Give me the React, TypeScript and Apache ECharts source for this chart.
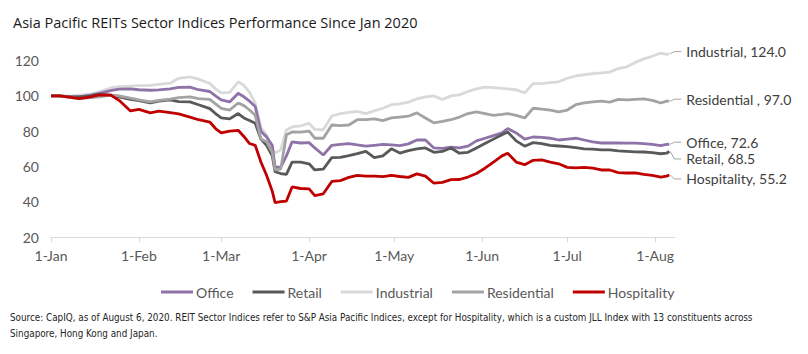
import React, { useEffect, useRef } from "react";
import * as echarts from "echarts";

const dates = [
  "2020-01-01","2020-01-04","2020-01-08","2020-01-11","2020-01-15","2020-01-18","2020-01-22","2020-01-25","2020-01-29",
  "2020-02-01","2020-02-05","2020-02-08","2020-02-12","2020-02-15","2020-02-19","2020-02-22","2020-02-26","2020-02-28",
  "2020-03-01","2020-03-04","2020-03-07","2020-03-09","2020-03-11","2020-03-13","2020-03-15","2020-03-17","2020-03-19",
  "2020-03-20","2020-03-22","2020-03-24","2020-03-26","2020-03-29",
  "2020-04-01","2020-04-03","2020-04-06","2020-04-09","2020-04-12","2020-04-15","2020-04-18","2020-04-21","2020-04-24",
  "2020-04-27","2020-04-30",
  "2020-05-03","2020-05-06","2020-05-09","2020-05-12","2020-05-15","2020-05-18","2020-05-21","2020-05-24","2020-05-27","2020-05-30",
  "2020-06-02","2020-06-05","2020-06-08","2020-06-10","2020-06-13","2020-06-16","2020-06-19","2020-06-22","2020-06-25","2020-06-28",
  "2020-07-01","2020-07-04","2020-07-07","2020-07-10","2020-07-13","2020-07-16","2020-07-19","2020-07-22","2020-07-25","2020-07-28","2020-07-31",
  "2020-08-03","2020-08-05","2020-08-06",
];

const office = [
  100,100,99.5,99.5,100.5,101.5,103,103.8,104,
  103.5,103.2,103.4,104,104.8,105,103.5,102.5,100,
  97.7,96.6,101.5,99.5,97,94,80,76.7,72,
  59.6,59.6,66,74,73.3,
  73.5,70.5,66.5,72,72.5,73,72.2,71.5,72,
  72.5,72.2,
  71.8,72.8,75,75,70.5,70.3,71,70.5,71.5,74.5,
  76,77.5,79,81.5,79,75.5,76.7,76.5,76,75,
  75.5,76,75,74,73.3,73.3,73.3,73.2,73.2,73,72.5,
  71.8,72.5,72.6,
];

const retail = [
  100,100,99.5,99.5,100,101,100.5,99.5,98,
  97.3,96,97,97.7,96.8,96.6,95,92.8,90,
  87.5,87,90,87.5,86,84.5,75.5,72,66,
  57,56,55.5,62.5,62.5,
  61.5,58,58.5,65,65.2,66.2,67.3,68.5,65,
  66,70,
  67.6,69,70,70.5,68,68.5,70.5,67.5,68,70.5,
  73,75.5,78,79.6,74.5,71.5,73.5,73,72,71.6,
  71.2,70.7,70,69.8,69.4,69.4,68.8,68.6,68.3,68.2,67.8,
  67.2,67.5,68.5,
];

const industrial = [
  100,100,100,100.5,101.2,102.3,104.5,105.2,105.6,
  105.8,106,106.6,107.2,110,110.8,109.5,107,104,
  101.7,102,108,106,102,96,82,78,70,
  67.6,69.4,80.7,82.4,83,
  84.5,81,80.8,88.6,90,90.7,91.2,90,91.5,
  93,95,
  95.5,96.5,98.3,99.5,100,98,100,100.6,102.5,104,
  105,104.7,104.3,104,103.5,101.7,107,107,107.5,108,
  110,111.3,112,112.7,113,113.5,115.5,116.5,119,121,122.5,
  124.3,123.5,124,
];

const residential = [
  100,100,99,98.5,99,99.4,100.4,100,98.8,
  97.7,96.6,97.5,98.2,99,99.4,98.5,98,95.5,
  93,92,96,94.5,92,89,75.5,74,68,
  58,58.5,78,79.6,79.5,
  80,76,76,83.5,83.2,83.5,86.5,86.5,87,
  86,87.5,
  88,88.5,90.4,87.5,84.7,85.5,86.5,88,90,91,
  90,89,89.5,90,89,87.5,93,92.5,92,91,
  92,95,96,96.6,97,96.5,98,97.7,98,98.3,97.5,
  96,97,97,
];

const hospitality = [
  100,100,99.2,98.5,99.5,100.6,100.5,97.5,91.5,
  92.4,90.4,91.4,90.5,89.8,88,86.5,85.2,81.5,
  79,80,80.5,77,73,72,62.5,55,46,
  39.5,40,40.4,48.4,47.5,
  47.3,43.5,44.5,51.5,52,53.8,55,54.5,54.5,
  54.2,55,
  54.3,53.8,55.8,54.5,50.5,51,52.5,52.6,54,56,
  59,62.5,66,67.5,62.5,61,63.5,63.7,62.5,61.5,
  59.5,59.2,59.5,59,58,58,56.5,56.3,56.3,55.5,55,
  54,54.5,55.2,
];

const seriesNames = ["Office", "Retail", "Industrial", "Residential", "Hospitality"];
const endNames = ["Office", "Retail", "Industrial", "Residential ", "Hospitality"];
const colors = ["#8e72a8", "#595959", "#d9d9d9", "#a3a3a3", "#c00000"];
const monthTicks = [0, 31, 60, 91, 121, 152, 182, 213];
const monthLabels = ["1-Jan", "1-Feb", "1-Mar", "1-Apr", "1-May", "1-Jun", "1-Jul", "1-Aug"];
const yTicks = [20, 40, 60, 80, 100, 120];

const title = "Asia Pacific REITs Sector Indices Performance Since Jan 2020";
const source =
  "Source: CapIQ, as of August 6, 2020. REIT Sector Indices refer to S&P Asia Pacific Indices, except for Hospitality, which is a custom JLL Index with 13 constituents across\nSingapore, Hong Kong and Japan.";

// label vertical offsets (px) relative to each series' last point
const labelDy = [-2, 7.5, -2, -2, 4];

const FONT = "Lato, 'Source Sans Pro', sans-serif";

function dayOf(d: string) {
  const [y, m, dd] = d.split("-").map(Number);
  return Math.round((Date.UTC(y, m - 1, dd) - Date.UTC(2020, 0, 1)) / 86400000);
}

export default function App() {
  const ref = useRef<HTMLDivElement>(null);
  useEffect(() => {
    if (!ref.current) return;
    const chart = echarts.init(ref.current, null, { renderer: "svg" });
    const days = dates.map(dayOf);
    const values = [office, retail, industrial, residential, hospitality];
    const series = values.map((vals, i) => ({
      name: seriesNames[i],
      type: "line",
      data: vals.map((v, k) => [days[k], v]),
      showSymbol: false,
      symbol: "none",
      clip: false,
      lineStyle: { width: 2.8, color: colors[i] },
      itemStyle: { color: colors[i] },
      z: i === 4 ? 5 : i === 2 ? 1 : 2 + i,
    }));
    chart.setOption({
      animation: false,
      backgroundColor: "#ffffff",
      title: {
        text: title,
        left: 8,
        top: 10,
        textStyle: { fontFamily: "'Open Sans', sans-serif", fontSize: 14.5, fontWeight: "normal", color: "#1a1a1a" },
      },
      grid: { left: 51, right: 133, top: 43, bottom: 117 },
      legend: {
        data: seriesNames,
        left: 156,
        top: 280,
        icon: "rect",
        itemWidth: 32,
        itemHeight: 3,
        itemGap: 19,
        textStyle: { fontFamily: FONT, fontSize: 14, color: "#595959", padding: [0, 0, 0, -2] },
      },
      xAxis: {
        type: "value",
        min: 0,
        max: 220,
        splitLine: { show: false },
        axisLine: { lineStyle: { color: "#d9d9d9", width: 1 } },
        axisTick: { show: true, length: 5, customValues: monthTicks, lineStyle: { color: "#d9d9d9" } },
        axisLabel: {
          customValues: monthTicks,
          margin: 11,
          fontFamily: FONT,
          fontSize: 14,
          color: "#595959",
          formatter: (v: number) => {
            const idx = monthTicks.indexOf(Math.round(v));
            return idx >= 0 ? monthLabels[idx] : "";
          },
        },
      },
      yAxis: {
        type: "value",
        min: 20,
        max: 130,
        interval: 20,
        splitLine: { show: false },
        axisLine: { show: false },
        axisTick: { show: false },
        axisLabel: {
          margin: 12,
          fontFamily: FONT,
          fontSize: 14,
          color: "#595959",
          formatter: (v: number) => (yTicks.includes(v) ? String(v) : ""),
        },
      },
      series,
    });

    const graphics: any[] = [];
    values.forEach((vals, i) => {
      const last = vals[vals.length - 1];
      const [px, py] = chart.convertToPixel({ xAxisIndex: 0, yAxisIndex: 0 }, [days[days.length - 1], last]);
      const ly = py + labelDy[i];
      graphics.push({
        type: "polyline",
        shape: { points: [[px + 1, py], [px + 5, ly], [px + 12, ly]] },
        style: { stroke: "#a6a6a6", lineWidth: 1, fill: null },
        silent: true,
      });
      graphics.push({
        type: "text",
        x: px + 17,
        y: ly,
        style: {
          text: `${endNames[i]}, ${last.toFixed(1)}`,
          fontFamily: FONT,
          fontSize: 14,
          fill: "#404040",
          verticalAlign: "middle",
          align: "left",
        },
        silent: true,
      });
    });
    graphics.push({
      type: "text",
      left: 10,
      top: 309,
      style: {
        text: source,
        fontFamily: "'Liberation Sans Narrow', 'DejaVu Sans Condensed', sans-serif",
        fontSize: 9.8,
        lineHeight: 16,
        fill: "#262626",
      },
      silent: true,
    });
    chart.setOption({ graphic: graphics });
    return () => chart.dispose();
  }, []);
  return (
    <div
      ref={ref}
      style={{ position: "fixed", left: 0, top: 0, width: 808, height: 354, background: "#fff" }}
    />
  );
}
